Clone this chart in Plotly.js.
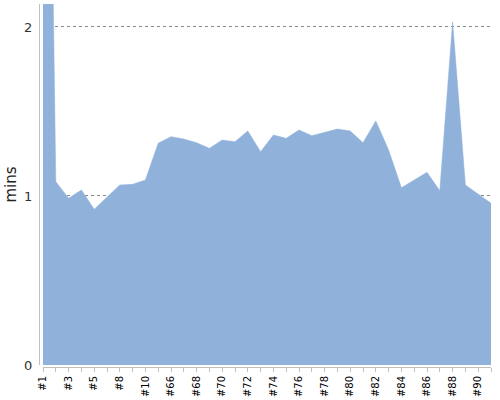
<!DOCTYPE html>
<html>
<head>
<meta charset="utf-8">
<script src="https://cdn.plot.ly/plotly-3.0.1.min.js"></script>
<style>html,body{margin:0;padding:0;background:#fff;}#chart{width:500px;height:400px;}</style>
</head>
<body>
<div id="chart"></div>
<script>
var categories = ["#1","#2","#3","#4","#5","#7","#8","#9","#10","#65",
  "#66","#67","#68","#69","#70","#71","#72","#73","#74","#75",
  "#76","#77","#78","#79","#80","#81","#82","#83","#84","#85",
  "#86","#87","#88","#89","#90","#91"];
var minutes = [6.47,1.085,0.986,1.036,0.921,0.996,1.065,1.069,1.095,1.312,
  1.351,1.337,1.315,1.282,1.331,1.321,1.385,1.262,1.361,1.341,
  1.391,1.357,1.375,1.396,1.385,1.315,1.444,1.272,1.049,1.095,
  1.140,1.031,2.031,1.065,1.010,0.957];
var yTicks = [0,1,2];
var tickText = categories.map(function(c,i){ return i % 2 === 0 ? c : ""; });

var trace = {
  x: categories,
  y: minutes,
  type: "scatter",
  mode: "lines",
  fill: "tozeroy",
  fillcolor: "rgb(143,177,218)",
  line: {color: "rgb(143,177,218)", width: 0.5},
  hoverinfo: "x+y"
};

var layout = {
  width: 500, height: 400,
  margin: {l: 39, r: 9, t: 4, b: 33},
  paper_bgcolor: "#fff", plot_bgcolor: "#fff",
  showlegend: false,
  font: {family: "DejaVu Sans, Verdana, sans-serif", color: "#333"},
  xaxis: {
    type: "category",
    domain: [4/452, 1],
    range: [0, categories.length - 1],
    anchor: "free", position: 0,
    showline: true, linecolor: "#c0c0c0", linewidth: 1,
    ticks: "outside", ticklen: 4, tickcolor: "#c0c0c0",
    tickmode: "array", tickvals: categories, ticktext: tickText,
    tickangle: -90,
    tickfont: {size: 10, color: "#000"},
    showgrid: false, zeroline: false
  },
  yaxis: {
    domain: [2/363, 1],
    range: [0, 2.136],
    anchor: "free", position: 0,
    showline: true, linecolor: "#c0c0c0", linewidth: 1,
    tickmode: "array", tickvals: yTicks,
    ticks: "", ticklabelstandoff: 4,
    tickfont: {size: 13, color: "#333"},
    showgrid: true, gridcolor: "#888", griddash: "dot", gridwidth: 1,
    zeroline: false,
    title: {text: "mins", font: {size: 15, color: "#222"}, standoff: 2}
  }
};

Plotly.newPlot("chart", [trace], layout, {displayModeBar: false, staticPlot: true});
</script>
</body>
</html>
